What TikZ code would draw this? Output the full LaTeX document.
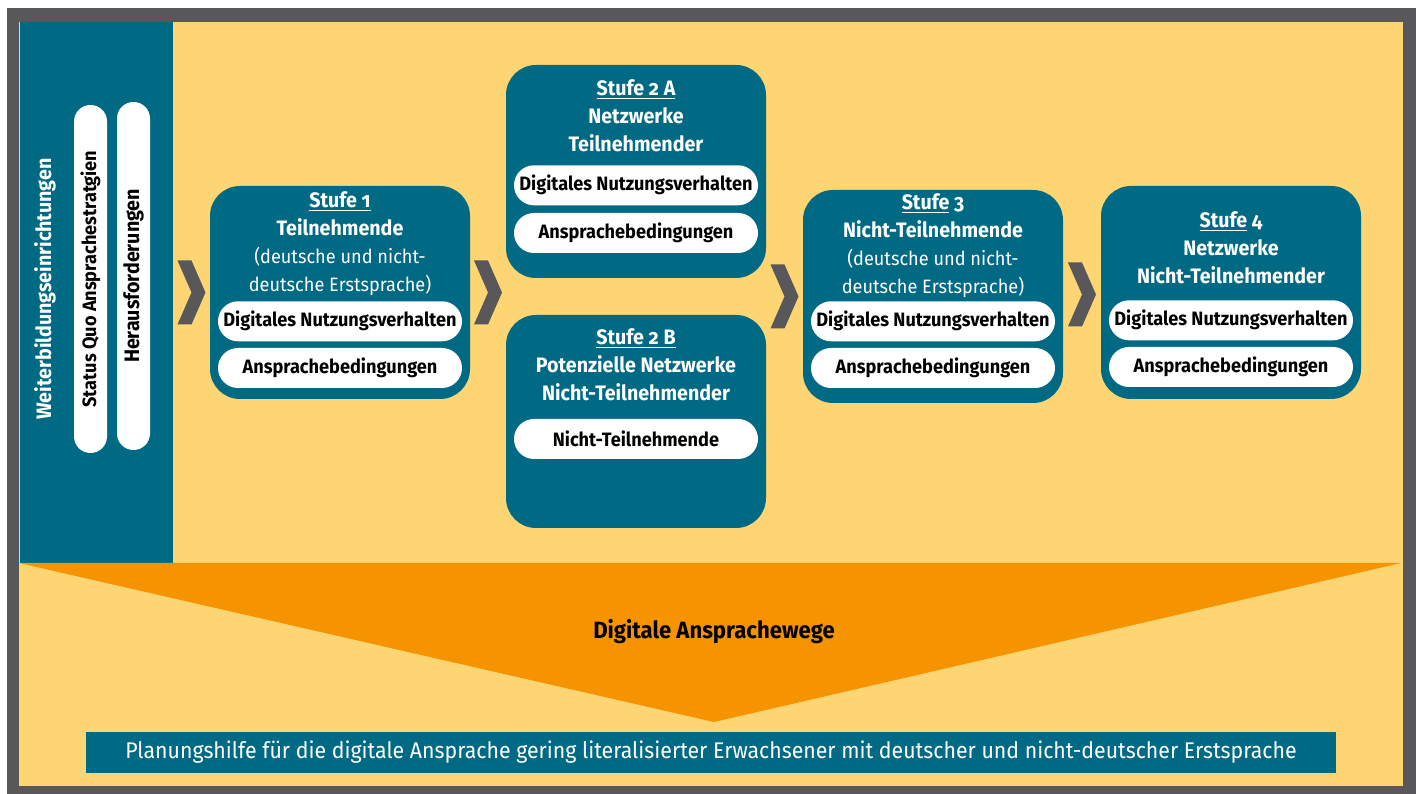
\documentclass[tikz,border=0pt]{standalone}
\usepackage{fontspec}
\setmainfont{Fira Sans}[FakeStretch=0.94,Numbers=OldStyle]
\usetikzlibrary{positioning,calc}
\definecolor{ptteal}{HTML}{006A84}
\definecolor{ptyellow}{HTML}{FDD572}
\definecolor{ptorange}{HTML}{F59300}
\definecolor{ptgray}{HTML}{58585A}
\newcommand{\hb}[1]{{\fontsize{11.9}{15.9}\selectfont\bfseries #1}}
\tikzstyle{every node}=[font=\fontsize{11}{15.9}\selectfont,inner sep=0pt]
\tikzstyle{panel}=[fill=ptteal,minimum width=30.6mm,minimum height=108.2mm]
\tikzstyle{stage}=[fill=ptteal,rounded corners=6mm,minimum width=52mm,minimum height=42.6mm]
\tikzstyle{head}=[text=white,align=center]
\tikzstyle{pill}=[fill=white,rounded corners=4mm,minimum width=48.8mm,minimum height=8mm,
  font=\fontsize{11}{15.9}\selectfont\bfseries]
\tikzstyle{vpill}=[pill,rotate=90,minimum width=69.6mm,minimum height=6.6mm,rounded corners=3.3mm]
\tikzstyle{bar}=[fill=ptteal,text=white,minimum width=250mm,minimum height=8.2mm,
  font=\fontsize{12.9}{15}\selectfont]
\tikzset{
  chev/.pic={\fill[ptgray] (-14,-32) -- (0,-32) -- (14,0) -- (0,32) -- (-14,32) -- (0,0) -- cycle;}
}

\begin{document}
\begin{tikzpicture}[x=.2mm,y=-.2mm]
  \useasboundingbox (0,0) rectangle (1416,794);
  \fill[ptgray] (7,8) rectangle (1416,794);
  \fill[ptyellow] (19,22) rectangle (1403,786);
  % Weiterbildungseinrichtungen
  \node[panel] (wb) at (96.5,292.5) {};
  \node[rotate=90,text=white] (wbt) at (45,289) {\hb{Weiterbildungseinrichtungen}};
  \node[vpill] (sq) at (90.5,279) {Status Quo Ansprachestratgien};
  \node[vpill] (hf) at (133.5,276) {\hb{Herausforderungen}};
  % Stufen
  \node[stage] (s1) at (340,292.5) {};
  \node[stage] (s2a) at (636,171.5) {};
  \node[stage] (s2b) at (636,421.5) {};
  \node[stage] (s3) at (933,296.5) {};
  \node[stage] (s4) at (1231,292.5) {};
  \node[head,below=1.1mm of s1.north] (t1) {\hb{\underline{Stufe 1}}\\ \hb{Teilnehmende}\\ (deutsche und nicht-\\ deutsche Erstsprache)};
  \node[head,below=2.9mm of s2a.north] (t2a) {\hb{\underline{Stufe 2 A}}\\ \hb{Netzwerke}\\ \hb{Teilnehmender}};
  \node[head,below=2.7mm of s2b.north] (t2b) {\hb{\underline{Stufe 2 B}}\\ \hb{Potenzielle Netzwerke}\\ \hb{Nicht-Teilnehmender}};
  \node[head,below=.7mm of s3.north] (t3) {\hb{\underline{Stufe} 3}\\ \hb{Nicht-Teilnehmende}\\ (deutsche und nicht-\\ deutsche Erstsprache)};
  \node[head,below=5.1mm of s4.north] (t4) {\hb{\underline{Stufe} 4}\\ \hb{Netzwerke}\\ \hb{Nicht-Teilnehmender}};
  \node[pill,above=2.2mm of s1.south] (a1) {Ansprachebedingungen};
  \node[pill,above=1.2mm of a1] (d1) {Digitales Nutzungsverhalten};
  \node[pill,above=5mm of s2a.south] (a2a) {Ansprachebedingungen};
  \node[pill,above=1.4mm of a2a] (d2a) {Digitales Nutzungsverhalten};
  \node[pill,above=13.8mm of s2b.south] (n2b) {Nicht-Teilnehmende};
  \node[pill,above=3mm of s3.south] (a3) {Ansprachebedingungen};
  \node[pill,above=1.2mm of a3] (d3) {Digitales Nutzungsverhalten};
  \node[pill,above=2.4mm of s4.south] (a4) {Ansprachebedingungen};
  \node[pill,above=1.2mm of a4] (d4) {Digitales Nutzungsverhalten};
  % Pfeile
  \pic at ($(wb.east|-s1.west)!.5!(s1.west)$) {chev};
  \pic at ($(s1.east)!.5!(s2a.west|-s1.east)$) {chev};
  \pic at ($(s2a.east|-s3.west)!.5!(s3.west)$) {chev};
  \pic at ($(s3.east)!.5!(s4.west)$) {chev};
  % Ansprachewege
  \fill[ptorange] (19,563) -- (1401,563) -- (714,722) -- cycle;
  \node[font=\fontsize{13.4}{15}\selectfont\bfseries] (dw) at (714,632) {Digitale Ansprachewege};
  \node[bar] (plan) at (711,752.5) {Planungshilfe für die digitale Ansprache gering literalisierter Erwachsener mit deutscher und nicht-deutscher Erstsprache};
\end{tikzpicture}
\end{document}
